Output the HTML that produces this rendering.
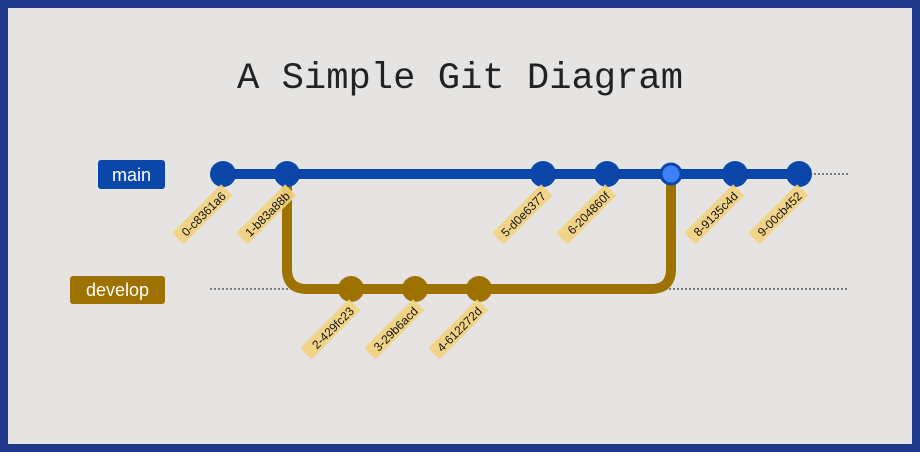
<!DOCTYPE html>
<html><head><meta charset="utf-8"><style>
html,body{margin:0;padding:0;width:920px;height:452px;overflow:hidden;background:#1f3a8a}
</style></head><body>
<svg width="920" height="452" viewBox="0 0 920 452" xmlns="http://www.w3.org/2000/svg" font-family="Liberation Sans, DejaVu Sans, sans-serif">
<rect x="0" y="0" width="920" height="452" fill="#1f3a8a"/>
<rect x="8" y="8" width="904" height="436" fill="#e5e4e2"/>
<text x="237" y="88" font-family="Liberation Mono, monospace" font-size="37" fill="#222" textLength="446" lengthAdjust="spacingAndGlyphs">A Simple Git Diagram</text>

<!-- branch labels -->
<rect x="98" y="160" width="67" height="29" rx="3" fill="#0a47a9"/>
<text x="131.5" y="181" font-size="18" fill="#fff" text-anchor="middle">main</text>
<rect x="70" y="276" width="95" height="28" rx="3" fill="#9e7200"/>
<text x="117.5" y="296" font-size="18" fill="#fff" text-anchor="middle">develop</text>

<!-- dotted lines -->
<line x1="810" y1="174" x2="848" y2="174" stroke="#111" stroke-width="1" stroke-dasharray="2,2"/>
<line x1="210" y1="289" x2="300" y2="289" stroke="#111" stroke-width="1" stroke-dasharray="2,2"/>
<line x1="665" y1="289" x2="848" y2="289" stroke="#111" stroke-width="1" stroke-dasharray="2,2"/>

<!-- main line -->
<line x1="223" y1="174" x2="799" y2="174" stroke="#0a47a9" stroke-width="10"/>
<!-- develop path -->
<path d="M287 174 V269 Q287 289 307 289 H651 Q671 289 671 269 V174" fill="none" stroke="#9e7200" stroke-width="10"/>

<!-- commits -->
<g fill="#0a47a9">
<circle cx="223" cy="174" r="13"/><circle cx="287" cy="174" r="13"/>
<circle cx="543" cy="174" r="13"/><circle cx="607" cy="174" r="13"/>
<circle cx="735" cy="174" r="13"/><circle cx="799" cy="174" r="13"/>
</g>
<circle cx="671" cy="174" r="10" fill="#3b82f6" stroke="#0a47a9" stroke-width="3"/>
<g fill="#9e7200">
<circle cx="351" cy="289" r="13"/><circle cx="415" cy="289" r="13"/><circle cx="479" cy="289" r="13"/>
</g>

<!-- commit labels -->
<g font-size="12" fill="#111" text-anchor="end">
<g transform="translate(226,192) rotate(-45)"><rect x="-67" y="-9" width="69" height="16" fill="#f2d27e" opacity="0.9"/><text x="-3" y="4">0-c8361a6</text></g>
<g transform="translate(290,192) rotate(-45)"><rect x="-67" y="-9" width="69" height="16" fill="#f2d27e" opacity="0.9"/><text x="-3" y="4">1-b83a88b</text></g>
<g transform="translate(546,192) rotate(-45)"><rect x="-67" y="-9" width="69" height="16" fill="#f2d27e" opacity="0.9"/><text x="-3" y="4">5-d0e6377</text></g>
<g transform="translate(610,192) rotate(-45)"><rect x="-67" y="-9" width="69" height="16" fill="#f2d27e" opacity="0.9"/><text x="-3" y="4">6-204860f</text></g>
<g transform="translate(738,192) rotate(-45)"><rect x="-67" y="-9" width="69" height="16" fill="#f2d27e" opacity="0.9"/><text x="-3" y="4">8-9135c4d</text></g>
<g transform="translate(802,192) rotate(-45)"><rect x="-67" y="-9" width="69" height="16" fill="#f2d27e" opacity="0.9"/><text x="-3" y="4">9-00cb452</text></g>
<g transform="translate(354,307) rotate(-45)"><rect x="-67" y="-9" width="69" height="16" fill="#f2d27e" opacity="0.9"/><text x="-3" y="4">2-429fc23</text></g>
<g transform="translate(418,307) rotate(-45)"><rect x="-67" y="-9" width="69" height="16" fill="#f2d27e" opacity="0.9"/><text x="-3" y="4">3-29b6acd</text></g>
<g transform="translate(482,307) rotate(-45)"><rect x="-67" y="-9" width="69" height="16" fill="#f2d27e" opacity="0.9"/><text x="-3" y="4">4-612272d</text></g>
</g>
</svg>
</body></html>
